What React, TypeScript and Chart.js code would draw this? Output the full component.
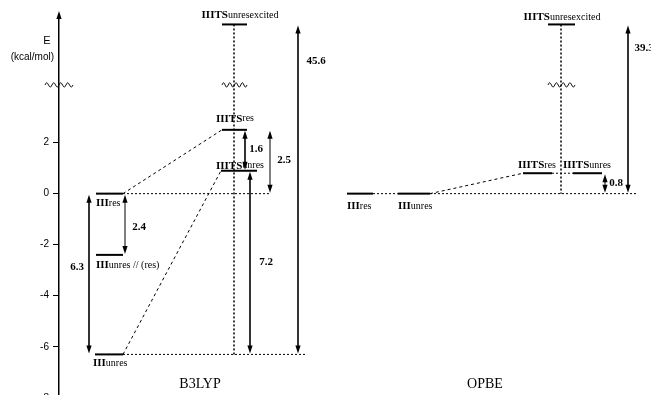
import React, { useEffect, useRef } from 'react';
import { Chart, registerables, LinearScale } from 'chart.js';

// ---------------- data ----------------
const yTickValues = [2, 0, -2, -4, -6, -8];
const methodNames = ['B3LYP', 'OPBE'];

const b3lypLevelNames = ['IIIres', 'IIIunres // (res)', 'IIIunres', 'IIITSres', 'IIITSunres', 'IIITSunresexcited'];
const b3lypLevelEnergies = [0, -2.4, -6.3, 2.5, 0.9, 39.3];
const b3lypGapValues = [6.3, 2.4, 1.6, 2.5, 7.2, 45.6];
const b3lypGapLevels = [[0, 2], [0, 1], [3, 4], [3, 0], [4, 2], [5, 2]];

const opbeLevelNames = ['IIIres', 'IIIunres', 'IIITSres', 'IIITSunres', 'IIITSunresexcited'];
const opbeLevelEnergies = [0, 0, 0.8, 0.8, 39.3];
const opbeGapValues = [0.8, 39.3];
const opbeGapLevels = [[2, 0], [4, 0]];

// ---------------- axis break ----------------
const BREAK_FROM = 3;
const BREAK_SQUEEZE = 0.1;
const BREAK_MARK_AT = 4.26; // display units
function fold(v: number) {
  return v <= BREAK_FROM ? v : BREAK_FROM + (v - BREAK_FROM) * BREAK_SQUEEZE;
}

class BrokenLinearScale extends LinearScale {
  static id = 'brokenLinear';
  static defaults = LinearScale.defaults;
  getPixelForValue(value: any) {
    return super.getPixelForValue(value == null ? value : fold(value));
  }
  getPixelForDisplay(d: number) {
    return super.getPixelForValue(d);
  }
}

Chart.register(...registerables, BrokenLinearScale as any);

// ---------------- layout (pixels) ----------------
const b3lypLevelX = [[96, 123], [96, 123], [95, 123], [222, 247], [221, 257], [222, 247]];
const b3lypLabelPos: [number, string, number][] = [
  [96, 'left', 10], [96, 'left', 10], [93, 'left', 9],
  [235, 'center', -11], [240, 'center', -5], [240, 'center', -9],
];
const opbeLevelX = [[347, 373], [398, 430], [523, 552], [573, 602], [548, 575]];
const opbeLabelPos: [number, string, number][] = [
  [347, 'left', 13], [398, 'left', 13],
  [537, 'center', -8], [587, 'center', -8], [562, 'center', -7],
];
// arrow x, label x, label position along arrow (0 = top), line width
const b3lypGapLayout = [[89, 77, 0.46, 1.6], [125, 139, 0.55, 1], [245, 256, 0.47, 1.6], [270, 284, 0.47, 1], [250, 266, 0.5, 1.6], [298, 316, 0.11, 1.6]];
const opbeGapLayout = [[605, 616, 0.5, 1], [628, 644, 0.14, 1.6]];

// connectors: [style, fromLevel, fromX, toLevel, toX]
const b3lypConnectors: [string, number, number, number, number][] = [
  ['dash', 0, 123, 3, 222],
  ['dash', 2, 123, 4, 221],
  ['dot', 0, 123, 0, 270],
  ['dot', 2, 123, 2, 306],
  ['vdot', 5, 234, 2, 234],
];
const opbeConnectors: [string, number, number, number, number][] = [
  ['dot', 0, 373, 1, 398],
  ['dot', 1, 430, 1, 637],
  ['dash', 1, 430, 2, 523],
  ['dot', 2, 552, 3, 573],
  ['vdot', 4, 561, 1, 561],
];
const waveMarks = [[45, 73], [222, 247], [548, 575]];
const methodLabelPos = [[200, 384], [485, 384]];

const SERIF = '"Liberation Serif", "Times New Roman", serif';
const SANS = '"Liberation Sans", Arial, sans-serif';

function buildDatasets() {
  const ds: any[] = [];
  const styleOf = (s: string) =>
    s === 'dash' ? { borderDash: [3, 3], borderWidth: 1 } :
    s === 'vdot' ? { borderDash: [2, 2], borderWidth: 1.5 } :
    { borderDash: [2, 2], borderWidth: 1 };
  const addConnectors = (conns: any[], energies: number[]) => {
    conns.forEach(([s, fl, fx, tl, tx]) => {
      ds.push({
        data: [{ x: fx, y: energies[fl] }, { x: tx, y: energies[tl] }],
        borderColor: '#000', pointRadius: 0, fill: false, tension: 0,
        ...styleOf(s),
      });
    });
  };
  const addLevels = (xs: number[][], energies: number[]) => {
    energies.forEach((e, i) => {
      ds.push({
        data: [{ x: xs[i][0], y: e }, { x: xs[i][1], y: e }],
        borderColor: '#000', borderWidth: 2, pointRadius: 0, fill: false, tension: 0,
      });
    });
  };
  addConnectors(b3lypConnectors, b3lypLevelEnergies);
  addConnectors(opbeConnectors, opbeLevelEnergies);
  addLevels(b3lypLevelX, b3lypLevelEnergies);
  addLevels(opbeLevelX, opbeLevelEnergies);
  return ds;
}

function drawLabel(ctx: CanvasRenderingContext2D, name: string, x: number, y: number, align: string) {
  const m = name.match(/^(IIITS|III)(.*)$/);
  const pre = m ? m[1] : '';
  const suf = m ? m[2] : name;
  ctx.font = `bold 11px ${SERIF}`;
  const w1 = ctx.measureText(pre).width;
  ctx.font = `10px ${SERIF}`;
  const w2 = ctx.measureText(suf).width;
  let sx = align === 'center' ? x - (w1 + w2) / 2 : x;
  ctx.textBaseline = 'middle';
  ctx.textAlign = 'left';
  ctx.fillStyle = '#000';
  ctx.font = `bold 11px ${SERIF}`;
  ctx.fillText(pre, sx, y);
  ctx.font = `10px ${SERIF}`;
  ctx.fillText(suf, sx + w1, y);
}

function arrowHead(ctx: CanvasRenderingContext2D, x: number, tipY: number, dir: number) {
  // dir = -1 pointing up, 1 pointing down
  ctx.beginPath();
  ctx.moveTo(x, tipY);
  ctx.lineTo(x - 2.6, tipY - dir * 8);
  ctx.lineTo(x + 2.6, tipY - dir * 8);
  ctx.closePath();
  ctx.fill();
}

function doubleArrow(ctx: CanvasRenderingContext2D, x: number, yA: number, yB: number, lw: number) {
  const top = Math.min(yA, yB) + 1;
  const bot = Math.max(yA, yB) - 1;
  ctx.lineWidth = lw;
  ctx.setLineDash([]);
  ctx.beginPath();
  ctx.moveTo(x, top + 4);
  ctx.lineTo(x, bot - 4);
  ctx.stroke();
  arrowHead(ctx, x, top, -1);
  arrowHead(ctx, x, bot, 1);
}

function wave(ctx: CanvasRenderingContext2D, x1: number, x2: number, y: number) {
  const n = 4;
  const w = (x2 - x1) / n;
  ctx.lineWidth = 1;
  ctx.setLineDash([]);
  ctx.beginPath();
  ctx.moveTo(x1, y);
  for (let i = 0; i < n; i++) {
    const a = x1 + i * w;
    ctx.bezierCurveTo(a + w * 0.25, y - 3, a + w * 0.25, y - 3, a + w * 0.5, y);
    ctx.bezierCurveTo(a + w * 0.75, y + 3, a + w * 0.75, y + 3, a + w, y);
  }
  ctx.stroke();
}

const annotations = {
  id: 'energyAnnotations',
  afterDraw(chart: any) {
    const ctx: CanvasRenderingContext2D = chart.ctx;
    const ys = chart.scales.y;
    const xs = chart.scales.x;
    const area = chart.chartArea;
    ctx.save();
    ctx.fillStyle = '#000';
    ctx.strokeStyle = '#000';

    // y axis arrow
    const ax = area.left;
    ctx.lineWidth = 1.5;
    ctx.beginPath();
    ctx.moveTo(ax, area.top + 1);
    ctx.lineTo(ax, 18);
    ctx.stroke();
    arrowHead(ctx, ax, 11, -1);

    // axis title
    ctx.font = `11px ${SANS}`;
    ctx.textBaseline = 'middle';
    ctx.textAlign = 'center';
    ctx.fillText('E', 47, 41);
    ctx.font = `10px ${SANS}`;
    ctx.textAlign = 'right';
    ctx.fillText('(kcal/mol)', 54, 57);

    // wave marks
    const wy = ys.getPixelForDisplay(BREAK_MARK_AT);
    waveMarks.forEach(([a, b]) => wave(ctx, xs.getPixelForValue(a), xs.getPixelForValue(b), wy));

    // gaps
    const drawGaps = (vals: number[], lv: number[][], lay: number[][], energies: number[]) => {
      vals.forEach((v, i) => {
        const [gx, lx, t, lw] = lay[i];
        const y1 = ys.getPixelForValue(energies[lv[i][0]]);
        const y2 = ys.getPixelForValue(energies[lv[i][1]]);
        const px = xs.getPixelForValue(gx);
        doubleArrow(ctx, px, y1, y2, lw);
        const top = Math.min(y1, y2);
        const ly = top + (Math.abs(y2 - y1)) * t;
        ctx.font = `bold 11px ${SERIF}`;
        ctx.textAlign = 'center';
        ctx.textBaseline = 'middle';
        ctx.fillText(v.toFixed(1), xs.getPixelForValue(lx), ly);
      });
    };
    drawGaps(b3lypGapValues, b3lypGapLevels, b3lypGapLayout, b3lypLevelEnergies);
    drawGaps(opbeGapValues, opbeGapLevels, opbeGapLayout, opbeLevelEnergies);

    // level labels
    const drawNames = (names: string[], energies: number[], pos: [number, string, number][]) => {
      names.forEach((n, i) => {
        const [lx, al, dy] = pos[i];
        drawLabel(ctx, n, xs.getPixelForValue(lx), ys.getPixelForValue(energies[i]) + dy, al);
      });
    };
    drawNames(b3lypLevelNames, b3lypLevelEnergies, b3lypLabelPos);
    drawNames(opbeLevelNames, opbeLevelEnergies, opbeLabelPos);

    // method names
    ctx.font = `14px ${SERIF}`;
    ctx.textAlign = 'center';
    ctx.textBaseline = 'middle';
    methodNames.forEach((m, i) => ctx.fillText(m, methodLabelPos[i][0], methodLabelPos[i][1]));
    ctx.restore();
  },
};

export default function App() {
  const ref = useRef<HTMLCanvasElement | null>(null);
  useEffect(() => {
    if (!ref.current) return;
    const chart = new Chart(ref.current, {
      type: 'line',
      data: { datasets: buildDatasets() },
      options: {
        responsive: false,
        animation: false,
        devicePixelRatio: 1,
        layout: { padding: { top: 15, bottom: 12, left: 0, right: 0 } },
        plugins: { legend: { display: false }, tooltip: { enabled: false } },
        scales: {
          x: { type: 'linear', display: false, min: 59, max: 651 },
          y: {
            type: 'brokenLinear' as any,
            min: -8.4,
            max: 7,
            afterBuildTicks: (s: any) => { s.ticks = yTickValues.map((v) => ({ value: v })); },
            afterFit: (s: any) => { s.width = 59; },
            grid: { drawOnChartArea: false, tickLength: 6, tickColor: '#000', tickWidth: 1 },
            border: { display: true, color: '#000', width: 1.5 },
            ticks: {
              color: '#000', padding: 4,
              font: { family: SANS, size: 10 },
              callback: (v: any) => String(v),
            },
          },
        },
      } as any,
      plugins: [annotations],
    });
    return () => chart.destroy();
  }, []);
  return (
    <div style={{ position: 'fixed', left: 0, top: 0, width: 651, height: 420, background: '#fff' }}>
      <canvas ref={ref} width={651} height={420} style={{ display: 'block' }} />
    </div>
  );
}
